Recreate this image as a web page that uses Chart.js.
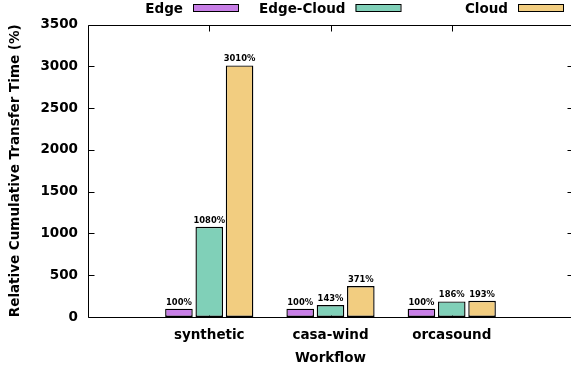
<!DOCTYPE html>
<html>
<head>
<meta charset="utf-8">
<script src="https://cdn.jsdelivr.net/npm/chart.js@4/dist/chart.umd.min.js"></script>
<style>
  html, body { margin: 0; padding: 0; overflow: hidden; background: #fff; }
  canvas { display: block; }
</style>
</head>
<body>
<canvas id="c" width="574" height="370"></canvas>
<script>
// Workflows on the x axis
const categories = ['synthetic', 'casa-wind', 'orcasound'];
// Relative cumulative transfer time (%) per placement strategy
const edge = [100, 100, 100];
const edgeCloud = [1080, 143, 186];
const cloud = [3010, 371, 193];
// Y axis range and ticks
const yTicks = [0, 500, 1000, 1500, 2000, 2500, 3000, 3500];

const FONT = '"DejaVu Sans", sans-serif';
const TXT = 13.5;

// Pad the category axis with an empty slot on each side so the groups sit at 1..3
const labels = ['', ...categories, ''];
const pad = arr => [null, ...arr, null];

const series = [
  { label: 'Edge', data: edge, color: '#c77ee6' },
  { label: 'Edge-Cloud', data: edgeCloud, color: '#80d0b8' },
  { label: 'Cloud', data: cloud, color: '#f2cd80' }
];

// Frame with inward ticks on all four sides (drawn under the bars)
const framePlugin = {
  id: 'frame',
  beforeDatasetsDraw(chart) {
    const { ctx, chartArea: a, scales: { x, y } } = chart;
    const L = Math.round(a.left) + 0.5, R = Math.round(a.right) + 0.5;
    const T = Math.round(a.top) + 0.5, B = Math.round(a.bottom) + 0.5;
    ctx.save();
    ctx.strokeStyle = '#000';
    ctx.lineWidth = 1;
    ctx.beginPath();
    ctx.rect(L, T, R - L, B - T);
    const tick = 6;
    yTicks.forEach(v => {
      const py = Math.round(y.getPixelForValue(v)) + 0.5;
      ctx.moveTo(L, py); ctx.lineTo(L + tick, py);
      ctx.moveTo(R, py); ctx.lineTo(R - tick, py);
    });
    categories.forEach((c, i) => {
      const px = Math.round(x.getPixelForValue(i + 1)) + 0.5;
      ctx.moveTo(px, B); ctx.lineTo(px, B - tick);
      ctx.moveTo(px, T); ctx.lineTo(px, T + tick);
    });
    ctx.stroke();
    ctx.restore();
  }
};

// Value labels above every bar
const valueLabels = {
  id: 'valueLabels',
  afterDatasetsDraw(chart) {
    const { ctx } = chart;
    ctx.save();
    ctx.font = 'bold 8.4px ' + FONT;
    ctx.fillStyle = '#000';
    ctx.textAlign = 'center';
    ctx.textBaseline = 'alphabetic';
    chart.data.datasets.forEach((ds, di) => {
      chart.getDatasetMeta(di).data.forEach((bar, i) => {
        const v = ds.data[i];
        if (v == null) return;
        ctx.fillText(v + '%', bar.x, bar.y - 4);
      });
    });
    ctx.restore();
  }
};

// Key along the top: label first, then the colour sample
const keyPlugin = {
  id: 'key',
  afterDraw(chart) {
    const { ctx } = chart;
    ctx.save();
    ctx.font = 'bold ' + TXT + 'px ' + FONT;
    ctx.textAlign = 'right';
    ctx.textBaseline = 'middle';
    chart.data.datasets.forEach((ds, i) => {
      const bx = 193 + i * 162.5;
      ctx.fillStyle = '#000';
      ctx.fillText(ds.label, bx - 10, 9);
      ctx.fillStyle = ds.backgroundColor;
      ctx.fillRect(bx, 4, 45, 7);
      ctx.strokeStyle = '#000';
      ctx.lineWidth = 1;
      ctx.strokeRect(bx + 0.5, 4.5, 45, 7);
    });
    ctx.restore();
  }
};

new Chart(document.getElementById('c'), {
  type: 'bar',
  data: {
    labels,
    datasets: series.map(s => ({
      label: s.label,
      data: pad(s.data),
      backgroundColor: s.color,
      borderColor: '#000',
      borderWidth: 1.4,
      borderSkipped: false,
      categoryPercentage: 0.75,
      barPercentage: 0.91
    }))
  },
  options: {
    responsive: false,
    devicePixelRatio: 1,
    animation: false,
    layout: { padding: { top: 24.5, left: 0, right: 1, bottom: 0 } },
    plugins: { legend: { display: false }, tooltip: { enabled: false } },
    scales: {
      x: {
        type: 'category',
        offset: false,
        grid: { display: false, drawTicks: false },
        border: { display: false },
        ticks: {
          autoSkip: false, maxRotation: 0, padding: 10,
          color: '#000', font: { family: FONT, size: TXT, weight: 'bold' }
        },
        title: {
          display: true, text: 'Workflow', color: '#000',
          font: { family: FONT, size: TXT, weight: 'bold' },
          padding: { top: 0, bottom: 3 }
        },
        afterFit(s) { s.height = 53; s.paddingLeft = 0; s.paddingRight = 0; }
      },
      y: {
        min: 0, max: 3500,
        grid: { display: false, drawTicks: false },
        border: { display: false },
        afterBuildTicks(s) { s.ticks = yTicks.map(v => ({ value: v })); },
        ticks: {
          padding: 10, color: '#000',
          font: { family: FONT, size: TXT, weight: 'bold' },
          callback: v => String(v)
        },
        title: {
          display: true, text: 'Relative Cumulative Transfer Time (%)', color: '#000',
          font: { family: FONT, size: TXT, weight: 'bold' },
          padding: { top: 7, bottom: 0 }
        },
        afterFit(s) { s.width = 88; s.paddingTop = 0; s.paddingBottom = 0; }
      }
    }
  },
  plugins: [framePlugin, valueLabels, keyPlugin]
});
</script>
</body>
</html>
